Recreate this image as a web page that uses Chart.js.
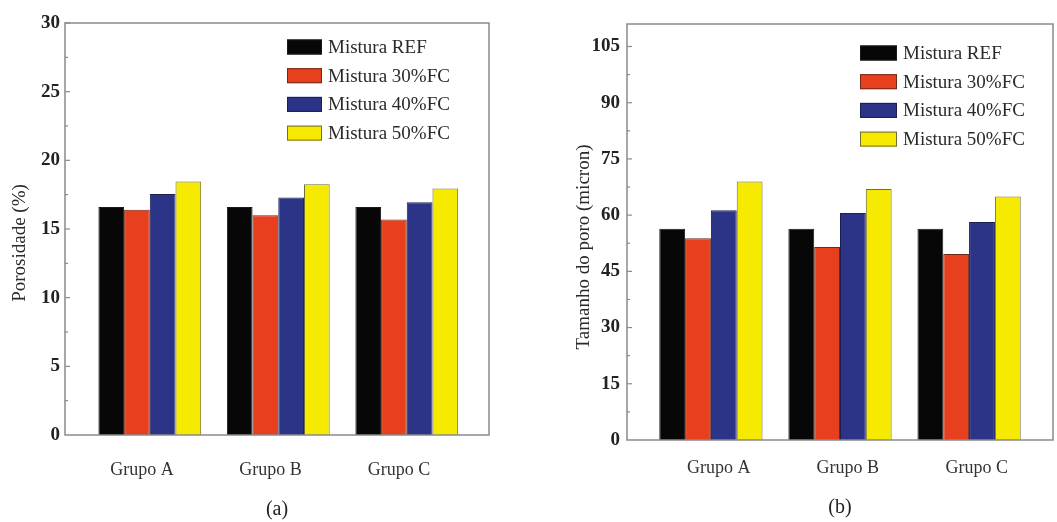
<!DOCTYPE html>
<html lang="pt">
<head>
<meta charset="utf-8">
<title>Porosidade e tamanho do poro</title>
<script src="https://cdn.jsdelivr.net/npm/chart.js@4.4.0/dist/chart.umd.min.js"></script>
<style>
  html, body { margin: 0; padding: 0; background: #fff; }
  body { width: 1057px; height: 522px; position: relative; overflow: hidden; }
  canvas { position: absolute; top: 0; }
  #graficoA { left: 0; }
  #graficoB { left: 530px; }
</style>
</head>
<body>
<canvas id="graficoA" width="530" height="522"></canvas>
<canvas id="graficoB" width="527" height="522"></canvas>
<script>
// Grupos e misturas
const grupos = ['Grupo A', 'Grupo B', 'Grupo C'];
const misturas = ['Mistura REF', 'Mistura 30%FC', 'Mistura 40%FC', 'Mistura 50%FC'];

// (a) Porosidade (%)
const porosidadeREF = [16.6, 16.6, 16.6];
const porosidade30 = [16.4, 16.0, 15.7];
const porosidade40 = [17.55, 17.3, 16.95];
const porosidade50 = [18.45, 18.25, 17.95];
const porosidadeTicks = [0, 5, 10, 15, 20, 25, 30];

// (b) Tamanho do poro (micron)
const poroREF = [56.4, 56.4, 56.4];
const poro30 = [53.8, 51.5, 49.6];
const poro40 = [61.3, 60.6, 58.2];
const poro50 = [69.0, 67.0, 65.0];
const poroTicks = [0, 15, 30, 45, 60, 75, 90, 105];

const cores = ['#070707', '#e8401f', '#2b3487', '#f6ea00'];
const bordas = ['#1a1a1a', '#6e2818', '#1a2055', '#6f6c36'];
const SERIF = '"Liberation Serif", "DejaVu Serif", serif';

Chart.defaults.font.family = SERIF;

// Moldura, marcas do eixo y, titulo do eixo y e legenda
const painelPlugin = {
    id: 'painel',
    afterDraw(chart, args, cfg) {
        const ctx = chart.ctx;
        const area = chart.chartArea;
        const escalaY = chart.scales.y;
        ctx.save();

        ctx.strokeStyle = '#8a8a8a';
        ctx.lineWidth = 1.5;
        ctx.strokeRect(area.left, area.top, area.right - area.left, area.bottom - area.top);

        // marcas para dentro: maiores nos rotulos, menores no meio
        const rotulos = cfg.rotulosY;
        const passo = rotulos[1] - rotulos[0];
        ctx.lineWidth = 1.2;
        for (let v = passo / 2; v <= escalaY.max; v += passo / 2) {
            const py = escalaY.getPixelForValue(v);
            const tam = rotulos.includes(v) ? 5 : 3;
            ctx.beginPath();
            ctx.moveTo(area.left, py);
            ctx.lineTo(area.left + tam, py);
            ctx.stroke();
        }

        ctx.fillStyle = '#2a2a2a';
        ctx.font = '19px ' + SERIF;
        ctx.textAlign = 'center';
        ctx.textBaseline = 'middle';
        ctx.save();
        ctx.translate(cfg.tituloX, cfg.tituloY);
        ctx.rotate(-Math.PI / 2);
        ctx.fillText(cfg.titulo, 0, 0);
        ctx.restore();

        // legenda
        ctx.textAlign = 'left';
        chart.data.datasets.forEach((ds, k) => {
            const cy = cfg.legY + k * cfg.legPasso;
            ctx.fillStyle = ds.backgroundColor;
            ctx.fillRect(cfg.legX, cy - cfg.legAlt / 2, cfg.legLarg, cfg.legAlt);
            ctx.strokeStyle = ds.borderColor;
            ctx.lineWidth = 1;
            ctx.strokeRect(cfg.legX + 0.5, cy - cfg.legAlt / 2 + 0.5, cfg.legLarg - 1, cfg.legAlt - 1);
            ctx.fillStyle = '#2a2a2a';
            ctx.fillText(ds.label, cfg.legX + cfg.legLarg + 6, cy + 1);
        });
        ctx.restore();
    }
};

function montarDatasets(series) {
    return series.map((valores, k) => ({
        label: misturas[k],
        data: valores.map((v, i) => ({ x: i + 1, y: v })),
        backgroundColor: cores[k],
        borderColor: bordas[k],
        borderWidth: 1,
        categoryPercentage: 0.8,
        barPercentage: 1.0
    }));
}

function montarOpcoes(cfg) {
    return {
        responsive: false,
        animation: false,
        layout: { padding: { top: cfg.topo, right: cfg.direita, bottom: 0, left: 0 } },
        plugins: {
            legend: { display: false },
            tooltip: { enabled: false },
            painel: cfg
        },
        scales: {
            x: {
                type: 'linear',
                bounds: 'data',
                offset: false,
                min: cfg.xMin,
                max: cfg.xMax,
                grid: { display: false, drawTicks: false, offset: false },
                border: { display: false },
                afterBuildTicks: s => { s.ticks = grupos.map((g, i) => ({ value: i + 1 + cfg.deslocRotulo })); },
                afterFit: s => { s.height = cfg.alturaX; },
                ticks: {
                    autoSkip: false,
                    maxRotation: 0,
                    padding: cfg.padX,
                    color: '#333',
                    font: { size: 18 },
                    callback: (v, i) => grupos[i]
                },
                title: {
                    display: true,
                    text: cfg.letra,
                    color: '#222',
                    font: { size: 20 },
                    padding: { top: 0, bottom: cfg.padLetra }
                }
            },
            y: {
                bounds: 'data',
                min: 0,
                max: cfg.yMax,
                grid: { display: false, drawTicks: false },
                border: { display: false },
                afterBuildTicks: s => { s.ticks = cfg.rotulosY.map(v => ({ value: v })); },
                afterFit: s => { s.width = cfg.larguraY; },
                ticks: {
                    autoSkip: false,
                    padding: cfg.padY,
                    color: '#222',
                    font: { size: 19, weight: 'bold' },
                    callback: v => v
                }
            }
        }
    };
}

new Chart(document.getElementById('graficoA'), {
    type: 'bar',
    data: { datasets: montarDatasets([porosidadeREF, porosidade30, porosidade40, porosidade50]) },
    options: montarOpcoes({
        topo: 23, direita: 41, larguraY: 65, alturaX: 87,
        xMin: 0.34, xMax: 3.64, deslocRotulo: -0.06, padX: 24,
        yMax: 30, rotulosY: porosidadeTicks, padY: 5,
        letra: '(a)', padLetra: 0,
        titulo: 'Porosidade (%)', tituloX: 20, tituloY: 243,
        legX: 287, legY: 47, legPasso: 28.7, legLarg: 35, legAlt: 15
    }),
    plugins: [painelPlugin]
});

new Chart(document.getElementById('graficoB'), {
    type: 'bar',
    data: { datasets: montarDatasets([poroREF, poro30, poro40, poro50]) },
    options: montarOpcoes({
        topo: 24, direita: 4, larguraY: 97, alturaX: 82,
        xMin: 0.35, xMax: 3.65, deslocRotulo: 0.06, padX: 17,
        yMax: 111, rotulosY: poroTicks, padY: 7,
        letra: '(b)', padLetra: 2,
        titulo: 'Tamanho do poro (micron)', tituloX: 54, tituloY: 247,
        legX: 330, legY: 53, legPasso: 28.7, legLarg: 37, legAlt: 15
    }),
    plugins: [painelPlugin]
});
</script>
</body>
</html>
